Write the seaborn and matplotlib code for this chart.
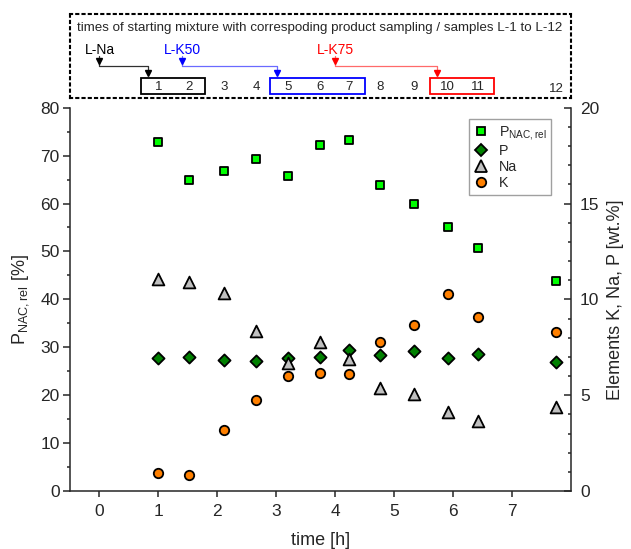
import matplotlib
matplotlib.use("Agg")
import matplotlib.pyplot as plt
from matplotlib.patches import Rectangle
from matplotlib.lines import Line2D
from matplotlib.ticker import MultipleLocator
import seaborn as sns

# ---------------- data ----------------
times = [1.0, 1.52, 2.12, 2.66, 3.2, 3.74, 4.24, 4.76, 5.33, 5.91, 6.42, 7.75]
p_nac_rel = [72.9, 64.9, 66.8, 69.3, 65.7, 72.2, 73.3, 63.8, 59.9, 55.1, 50.7, 43.8]
p_wt = [6.94, 6.98, 6.84, 6.78, 6.95, 6.99, 7.36, 7.10, 7.31, 6.93, 7.13, 6.75]
na_wt = [11.05, 10.89, 10.35, 8.35, 6.70, 7.79, 6.87, 5.36, 5.06, 4.11, 3.64, 4.37]
k_wt = [0.92, 0.84, 3.18, 4.75, 6.02, 6.17, 6.11, 7.79, 8.66, 10.27, 9.10, 8.28]
sample_labels = [str(i) for i in range(1, 13)]
x_ticks = [0, 1, 2, 3, 4, 5, 6, 7]

# starting mixtures: name, start time, first/last sample index of group
mix_names = ["L-Na", "L-K50", "L-K75"]
mix_start = [0.0, 1.4, 4.0]
mix_groups = [(0, 1), (4, 6), (9, 10)]
mix_colors = ["black", "#0000ff", "#ff0000"]
mix_line_colors = ["#303030", "#6a6aff", "#ff6a6a"]

title_text = "times of starting mixture with correspoding product sampling / samples L-1 to L-12"

# ---------------- style ----------------
sns.set_style("ticks")
plt.rcParams["font.family"] = ["Liberation Sans", "DejaVu Sans"]
plt.rcParams["mathtext.default"] = "regular"

W, H = 631, 549
fig = plt.figure(figsize=(W / 100, H / 100), dpi=100)
ax = fig.add_axes([70 / W, (H - 491) / H, 501 / W, 383.3 / H])
ax2 = ax.twinx()

mk_edge = dict(edgecolor="black", linewidth=1.3)
sns.scatterplot(x=times, y=p_nac_rel, ax=ax, marker="s", s=40, color="#00ff00",
                zorder=3, **mk_edge)
sns.scatterplot(x=times, y=p_wt, ax=ax2, marker="D", s=38, color="#008000",
                zorder=3, **mk_edge)
sns.scatterplot(x=times, y=na_wt, ax=ax2, marker="^", s=72, color="#c0c0c0",
                zorder=4, **mk_edge)
sns.scatterplot(x=times, y=k_wt, ax=ax2, marker="o", s=46, color="#ff8000",
                zorder=5, **mk_edge)

ax.set_xlim(-0.5, 8.0)
ax.set_ylim(0, 80)
ax2.set_ylim(0, 20)
ax.set_xticks(x_ticks)
ax.yaxis.set_major_locator(MultipleLocator(10))
ax.yaxis.set_minor_locator(MultipleLocator(5))
ax2.yaxis.set_major_locator(MultipleLocator(5))
ax2.yaxis.set_minor_locator(MultipleLocator(1))

for a in (ax, ax2):
    a.spines["top"].set_visible(False)
    for s in a.spines.values():
        s.set_linewidth(1.1)
ax.spines["right"].set_visible(False)
ax2.spines["left"].set_visible(False)
ax2.spines["bottom"].set_visible(False)

ax.tick_params(axis="y", which="major", direction="out", length=5, width=1.1,
               labelsize=12.5, pad=2.5)
ax.tick_params(axis="y", which="minor", direction="out", length=2.5, width=1.1)
ax.tick_params(axis="x", which="major", direction="out", length=4.5, width=1.1,
               labelsize=12.5, pad=5)
ax2.tick_params(axis="y", which="major", direction="in", length=5, width=1.1,
                labelsize=12.5, pad=6.5)
ax2.tick_params(axis="y", which="minor", direction="in", length=2.5, width=1.1)

ax.set_xlabel("time [h]", fontsize=13)
ax.set_ylabel("P$_{NAC,rel}$ [%]", fontsize=13)
ax2.set_ylabel("Elements K, Na, P [wt.%]", fontsize=13)
ax.xaxis.set_label_coords(0.5, -0.108)
ax.yaxis.set_label_coords(-0.078, 0.5)
ax2.yaxis.set_label_coords(1.072, 0.5)

# legend
handles = [
    Line2D([], [], ls="none", marker="s", ms=6.3, mfc="#00ff00", mec="black", mew=1.3),
    Line2D([], [], ls="none", marker="D", ms=6.2, mfc="#008000", mec="black", mew=1.3),
    Line2D([], [], ls="none", marker="^", ms=8.5, mfc="#c0c0c0", mec="black", mew=1.3),
    Line2D([], [], ls="none", marker="o", ms=6.8, mfc="#ff8000", mec="black", mew=1.3),
]
leg = ax2.legend(handles, ["P$_{NAC,rel}$", "P", "Na", "K"],
                 loc="upper right", bbox_to_anchor=(0.961, 0.9705),
                 fontsize=10.3, frameon=True, fancybox=False, framealpha=1,
                 edgecolor="#a0a0a0", borderpad=0.35, labelspacing=0.15,
                 handlelength=1.0, handletextpad=0.7, borderaxespad=0)
leg.get_frame().set_linewidth(1.0)

# ---------------- top annotation box ----------------
top_y0, top_y1 = 14, 97.7
axt = fig.add_axes([70 / W, (H - top_y1) / H, 501 / W, (top_y1 - top_y0) / H])
axt.set_xlim(ax.get_xlim())
axt.set_ylim(top_y1, top_y0)
axt.set_xticks([])
axt.set_yticks([])
axt.patch.set_alpha(0)
for s in axt.spines.values():
    s.set_linestyle((0, (1, 2)))
    s.set_linewidth(1.5)
    s.set_color("black")

axt.text(-0.38, 28.5, title_text, ha="left", va="center", fontsize=9.6)

for i, (t, lab) in enumerate(zip(times, sample_labels)):
    yy = 89.5 if i == len(times) - 1 else 87.5
    axt.text(t, yy, lab, ha="center", va="center", fontsize=9.5)

for name, xs, (g0, g1), c, lc in zip(mix_names, mix_start, mix_groups,
                                      mix_colors, mix_line_colors):
    bx0 = times[g0] - 0.3
    bx1 = times[g1] + 0.27
    axt.add_patch(Rectangle((bx0, 77.7), bx1 - bx0, 16.6, fill=False,
                            edgecolor=c, linewidth=1.3))
    xe = bx0 + 0.12
    axt.plot([xs, xs, xe, xe], [56.5, 65.7, 65.7, 74.5], color=lc, lw=0.9)
    axt.plot([xs, xe], [61.5, 73.0], ls="none", marker="v", ms=4.2,
             color=c, mec=c)
    axt.text(xs, 50, name, ha="center", va="center", fontsize=10, color=c)

fig.savefig("out.png", dpi=100)
